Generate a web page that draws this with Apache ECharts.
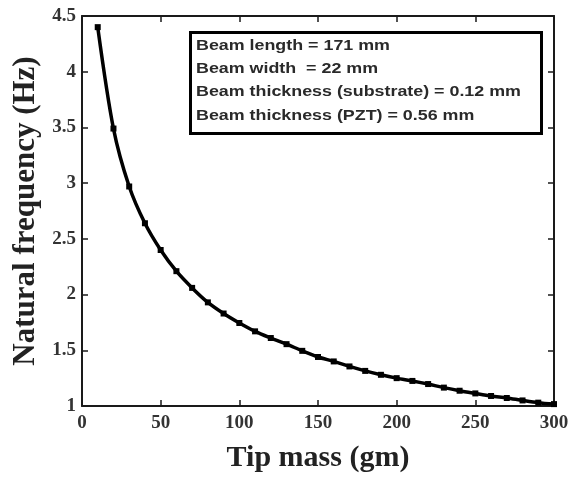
<!DOCTYPE html>
<html>
<head>
<meta charset="utf-8">
<script src="https://cdn.jsdelivr.net/npm/echarts@6/dist/echarts.min.js"></script>
<style>
  html, body { margin: 0; padding: 0; background: #fff; }
  #chart { width: 580px; height: 479px; }
</style>
</head>
<body>
<div id="chart"></div>
<script>
// tip mass (gm) and natural frequency (Hz)
const tipMass = [10, 20, 30, 40, 50, 60, 70, 80, 90, 100,
  110, 120, 130, 140, 150, 160, 170, 180, 190, 200,
  210, 220, 230, 240, 250, 260, 270, 280, 290, 300]
const naturalFreq = [4.40, 3.49, 2.97, 2.64, 2.40, 2.21, 2.06, 1.93, 1.83, 1.745,
  1.67, 1.61, 1.555, 1.495, 1.44, 1.40, 1.355, 1.315, 1.28, 1.25,
  1.225, 1.197, 1.165, 1.137, 1.113, 1.09, 1.072, 1.05, 1.03, 1.017]

// text in the annotation box
const beamInfo = [
  'Beam length = 171 mm',
  'Beam width  = 22 mm',
  'Beam thickness (substrate) = 0.12 mm',
  'Beam thickness (PZT) = 0.56 mm'
]

const chart = echarts.init(document.getElementById('chart'))

const serif = '"Liberation Serif", "DejaVu Serif", serif'
const axisLine = { show: true, onZero: false, lineStyle: { color: '#1a1a1a', width: 2 } }
const tick = { show: true, inside: true, length: 6, lineStyle: { color: '#1a1a1a', width: 1.5 } }

const option = {
  backgroundColor: '#fff',
  animation: false,
  grid: { left: 82, right: 26, top: 16, bottom: 73 },
  xAxis: [
    {
      type: 'value',
      min: 0,
      max: 300,
      interval: 50,
      name: 'Tip mass (gm)',
      nameLocation: 'middle',
      nameGap: 37,
      nameTextStyle: { fontFamily: serif, fontWeight: 'bold', fontSize: 30, color: '#222' },
      axisLine: axisLine,
      axisTick: tick,
      axisLabel: { fontFamily: serif, fontWeight: 'bold', fontSize: 19, color: '#333', margin: 8 },
      splitLine: { show: false }
    },
    {
      type: 'value',
      position: 'top',
      min: 0,
      max: 300,
      interval: 50,
      axisLine: axisLine,
      axisTick: tick,
      axisLabel: { show: false },
      splitLine: { show: false }
    }
  ],
  yAxis: [
    {
      type: 'value',
      min: 1,
      max: 4.5,
      interval: 0.5,
      name: 'Natural frequency (Hz)',
      nameLocation: 'middle',
      nameGap: 41,
      nameTextStyle: { fontFamily: serif, fontWeight: 'bold', fontSize: 31, color: '#222' },
      axisLine: axisLine,
      axisTick: tick,
      axisLabel: { fontFamily: serif, fontWeight: 'bold', fontSize: 19, color: '#333', margin: 6 },
      splitLine: { show: false }
    },
    {
      type: 'value',
      position: 'right',
      min: 1,
      max: 4.5,
      interval: 0.5,
      axisLine: axisLine,
      axisTick: tick,
      axisLabel: { show: false },
      splitLine: { show: false }
    }
  ],
  series: [
    {
      type: 'line',
      data: tipMass.map((m, i) => [m, naturalFreq[i]]),
      smooth: 0.3,
      symbol: 'rect',
      symbolSize: 6,
      itemStyle: { color: '#000' },
      lineStyle: { color: '#000', width: 3.5 }
    }
  ],
  graphic: [
    {
      type: 'rect',
      left: 189,
      top: 31,
      shape: { width: 351, height: 101 },
      style: { fill: '#fff', stroke: '#000', lineWidth: 3 }
    },
    {
      type: 'group',
      left: 196,
      top: 38,
      children: beamInfo.map((t, i) => ({
        type: 'text',
        x: 0,
        y: i * 23.3,
        scaleX: 1.19,
        style: {
          text: t,
          fontFamily: '"Liberation Sans", Arial, sans-serif',
          fontWeight: 'bold',
          fontSize: 15,
          fill: '#2a2a2a'
        }
      }))
    }
  ]
}

chart.setOption(option)
</script>
</body>
</html>
